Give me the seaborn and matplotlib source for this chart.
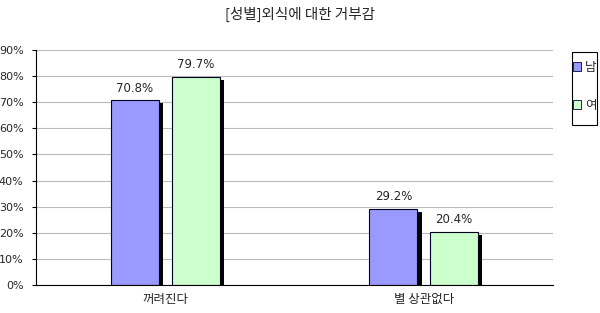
import matplotlib
matplotlib.use("Agg")
import matplotlib.pyplot as plt
import matplotlib.patheffects as pe
import seaborn as sns
import pandas as pd
from matplotlib.patches import Patch, Rectangle

categories = ["꺼려진다", "별 상관없다"]
series = ["남", "여"]
male = [70.8, 29.2]
female = [79.7, 20.4]
yticks = [0, 10, 20, 30, 40, 50, 60, 70, 80, 90]
colors = ["#9999FF", "#CCFFCC"]

sns.set_style("white")
plt.rcParams['font.family'] = ['Noto Sans CJK KR', 'DejaVu Sans']

df = pd.DataFrame({
    "cat": categories * 2,
    "sex": [series[0]] * 2 + [series[1]] * 2,
    "val": male + female,
})

W, H = 600, 313
fig = plt.figure(figsize=(6.0, 3.13), dpi=100)
ax = fig.add_axes([0.06, 0.0895, 0.8617, 0.7505])

sns.barplot(data=df, x="cat", y="val", hue="sex", hue_order=series,
            palette=colors, saturation=1, width=0.47, gap=0.21, edgecolor="#000022",
            linewidth=0.8, ax=ax, legend=False, errorbar=None)

for p in ax.patches:
    p.set_path_effects([pe.SimplePatchShadow(offset=(3, -2), shadow_rgbFace="black", alpha=1.0),
                        pe.Normal()])

for cont in ax.containers:
    ax.bar_label(cont, labels=[f"{v:.1f}%" for v in cont.datavalues],
                 padding=4, fontsize=8.5, family="DejaVu Sans")

ax.set_ylim(0, 90)
ax.set_xlim(-0.5, 1.5)
ax.set_yticks(yticks)
ax.set_yticklabels([f"{t}%" for t in yticks], fontsize=8, family="DejaVu Sans")
ax.yaxis.grid(True, color="#BBBBBB", linewidth=0.8)
ax.set_axisbelow(True)
ax.tick_params(axis="y", length=3, width=0.8, color="black", pad=6, left=True)
ax.tick_params(axis="x", length=0, labelsize=9, pad=6)
ax.set_xlabel("")
ax.set_ylabel("")
for s in ["top", "right"]:
    ax.spines[s].set_visible(False)
for s in ["left", "bottom"]:
    ax.spines[s].set_color("black")
    ax.spines[s].set_linewidth(0.8)

fig.text(0.5, 0.955, "[성별]외식에 대한 거부감", ha="center", va="center",
         fontsize=10.5, fontweight="medium")

# legend frame (drawn manually to match the tall narrow box)
fig.patches.append(Rectangle((572 / W, 1 - 125 / H), 25 / W, 73 / H,
                             transform=fig.transFigure, facecolor="white",
                             edgecolor="black", linewidth=0.8))
handles = [Patch(facecolor=c, edgecolor="#000033", linewidth=0.6) for c in colors]
leg = fig.legend(handles, series, loc="center", bbox_to_anchor=(584.5 / W, 1 - 86 / H),
                 frameon=False, fontsize=9,
                 handlelength=0.7, handleheight=0.7, handletextpad=0.3,
                 labelspacing=2.0, borderpad=0, borderaxespad=0)

fig.savefig("out.png", dpi=100)
